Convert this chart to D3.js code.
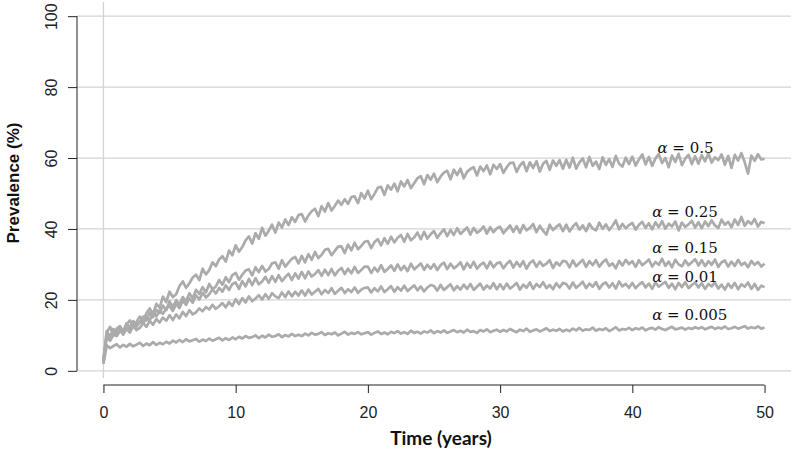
<!DOCTYPE html>
<html>
<head>
<meta charset="utf-8">
<script src="https://cdn.jsdelivr.net/npm/d3@7"></script>
<style>
  body { margin: 0; background: #fff; }
  svg { display: block; }
</style>
</head>
<body>
<script>
const WIDTH = 794;
const HEIGHT = 455;

// one value every quarter year, from 0 to 50
const STEP = 0.25;

const alpha05 = [
    2, 10.8, 12.4, 10.1, 11.9, 12.6, 10.9, 13.1, 14.2, 12.6, 13.8, 15.3, 14.1, 16.2, 17.6, 16.0, 18.9, 17.8, 20.9, 19.4,
    22.3, 20.8, 21.6, 23.9, 25.2, 23.4, 24.7, 26.3, 27.1, 25.6, 28.8, 27.2, 28.4, 30.6, 29.5, 31.4, 32.3, 30.8, 33.9, 32.6,
    35.4, 33.6, 34.9, 36.8, 37.9, 35.9, 38.8, 37.2, 40.3, 38.1, 39.5, 41.2, 39.0, 41.8, 40.4, 42.7, 41.1, 43.3, 42.0, 43.9,
    44.2, 42.1, 43.8, 45.0, 45.7, 43.6, 46.4, 44.9, 47.3, 45.2, 46.5, 48.0, 46.8, 48.4, 47.1, 49.0, 49.2, 47.3, 50.1, 48.6,
    50.8, 48.4, 49.9, 51.6, 51.9, 49.6, 52.3, 51.1, 52.8, 50.6, 53.4, 52.0, 53.8, 51.5, 52.9, 54.3, 54.9, 52.6, 55.2, 53.9,
    55.6, 53.2, 54.8, 55.9, 56.4, 54.0, 56.7, 55.2, 57.0, 54.3, 56.1, 56.9, 57.4, 55.1, 57.6, 56.3, 57.9, 55.4, 58.1, 56.9,
    58.3, 55.8, 57.4, 58.6, 58.7, 56.1, 57.9, 58.9, 56.3, 58.8, 57.2, 59.1, 56.2, 58.4, 59.2, 56.7, 59.3, 57.8, 59.4, 57.0,
    59.5, 57.3, 60.1, 57.0, 58.8, 59.9, 57.4, 60.3, 57.8, 59.0, 56.9, 60.2, 58.1, 59.7, 57.5, 60.6, 58.4, 57.6, 60.1, 58.3,
    60.4, 57.9, 59.6, 61.0, 58.2, 60.3, 57.8, 59.9, 61.1, 58.6, 60.0, 57.4, 60.7, 58.9, 61.2, 58.0, 59.8, 60.9, 58.3, 60.5,
    58.4, 60.8, 59.1, 61.3, 58.7, 60.2, 59.4, 61.0, 58.1, 60.6, 57.2, 60.9, 59.3, 61.4, 58.8, 55.6, 60.7, 59.2, 61.1, 59.6,
    59.8
];

const alpha025 = [
    3, 11.2, 9.6, 11.8, 10.4, 12.3, 11.1, 13.4, 12.2, 14.0, 12.9, 13.6, 15.3, 14.2, 16.4, 15.1, 17.2, 16.3, 18.4, 17.1,
    19.6, 18.0, 19.9, 18.7, 20.8, 19.6, 21.9, 20.4, 22.8, 21.7, 23.6, 22.1, 24.5, 23.0, 23.8, 25.6, 24.3, 26.4, 25.0, 27.0,
    27.6, 25.7, 27.1, 28.3, 28.6, 26.9, 29.2, 27.8, 29.6, 28.0, 28.7, 30.3, 30.6, 28.8, 31.2, 29.4, 30.5, 31.6, 32.1, 30.3,
    32.4, 30.6, 32.9, 31.3, 33.5, 31.8, 32.7, 34.1, 34.4, 32.6, 33.8, 35.0, 35.1, 33.2, 35.6, 34.0, 36.1, 34.3, 35.2, 36.4,
    36.6, 34.6, 36.3, 37.1, 35.4, 37.4, 35.8, 37.8, 36.2, 37.5, 38.3, 36.4, 38.6, 36.8, 37.6, 39.0, 37.1, 39.2, 37.3, 38.5,
    39.4, 37.5, 38.8, 39.9, 38.0, 39.7, 38.3, 40.2, 38.6, 39.5, 40.4, 38.4, 40.3, 38.9, 39.6, 40.7, 38.7, 40.5, 39.1, 40.2,
    40.6, 38.8, 39.9, 41.0, 39.2, 40.8, 38.9, 41.1, 39.6, 40.3, 41.4, 39.1, 40.9, 39.5, 38.4, 41.2, 39.7, 40.6, 41.3, 39.4,
    41.2, 39.3, 40.7, 41.6, 39.8, 41.0, 39.4, 41.5, 40.1, 39.6, 41.8, 40.0, 41.3, 39.7, 40.9, 42.4, 39.9, 41.4, 40.2, 41.1,
    41.7, 39.8, 41.2, 42.0, 40.3, 41.6, 39.9, 41.9, 40.5, 42.2, 40.1, 41.5, 40.7, 42.1, 39.6, 41.8, 40.6, 41.3, 42.3, 40.4,
    41.9, 40.2, 42.1, 40.8, 42.4, 41.0, 40.3, 42.6, 41.2, 42.0, 40.5, 42.7, 41.1, 43.4, 40.9, 42.2, 41.4, 42.8, 40.7, 42.0,
    41.6
];

const alpha015 = [
    2.5, 9.8, 8.6, 10.3, 9.9, 11.4, 10.5, 12.2, 11.3, 13.1, 12.4, 13.9, 13.2, 15.1, 14.3, 16.2, 15.4, 17.0, 16.1, 17.6,
    18.3, 16.9, 18.8, 17.7, 19.8, 18.6, 20.4, 19.2, 21.3, 20.1, 22.0, 20.7, 21.6, 23.0, 21.8, 23.4, 22.3, 24.1, 22.8, 24.5,
    24.9, 23.1, 25.3, 23.8, 25.9, 24.2, 26.1, 24.4, 25.2, 26.5, 24.8, 26.7, 25.1, 27.0, 25.3, 26.4, 27.4, 25.6, 27.5, 26.0,
    27.9, 26.1, 28.0, 26.6, 27.3, 28.4, 26.8, 28.5, 27.0, 28.7, 26.9, 28.2, 29.0, 27.3, 28.8, 27.5, 29.3, 27.6, 28.4, 29.4,
    29.4, 27.6, 29.1, 28.0, 29.8, 27.9, 28.7, 29.7, 28.2, 30.0, 28.4, 29.6, 28.1, 30.2, 28.6, 29.4, 30.3, 28.5, 29.9, 28.8,
    30.1, 28.4, 29.8, 30.5, 28.7, 30.2, 28.9, 29.6, 30.6, 28.6, 30.4, 29.1, 30.7, 28.8, 29.9, 30.5, 28.9, 30.8, 29.2, 30.3,
    30.6, 28.9, 30.2, 31.0, 29.1, 30.7, 29.4, 30.9, 28.8, 30.4, 31.1, 29.3, 30.8, 29.6, 30.2, 31.2, 29.0, 30.6, 29.7, 31.0,
    30.8, 29.2, 31.1, 29.5, 30.4, 31.3, 29.3, 30.9, 29.8, 31.2, 29.4, 30.6, 31.4, 29.6, 30.3, 28.9, 31.0, 29.7, 31.3, 30.1,
    30.9, 29.3, 31.2, 29.8, 30.5, 31.4, 29.4, 30.7, 29.9, 31.6, 29.6, 30.8, 29.2, 31.3, 30.0, 29.5, 31.1, 29.8, 30.6, 31.5,
    29.7, 31.2, 29.5, 30.9, 29.9, 31.4, 29.3, 30.6, 31.1, 29.4, 30.8, 29.6, 31.3, 29.8, 30.5, 29.2, 31.0, 29.9, 30.7, 29.4,
    30.2
];

const alpha001 = [
    3.5, 9.6, 8.5, 10.2, 9.8, 11.3, 10.2, 11.9, 10.8, 12.6, 11.5, 12.1, 13.5, 12.4, 14.1, 13.0, 14.6, 13.6, 15.0, 14.1,
    15.7, 14.3, 15.9, 14.8, 16.6, 15.4, 17.1, 15.9, 16.5, 17.6, 16.8, 18.0, 17.3, 18.6, 17.5, 18.2, 19.1, 17.9, 19.4, 18.3,
    20.2, 18.8, 20.5, 19.3, 21.0, 19.6, 20.4, 21.3, 20.1, 21.6, 20.3, 21.9, 21.0, 20.5, 22.1, 20.8, 22.4, 21.0, 22.3, 21.2,
    22.7, 21.2, 22.9, 21.5, 22.3, 23.1, 21.6, 22.8, 21.9, 23.3, 21.7, 22.6, 23.4, 21.9, 23.0, 22.2, 23.5, 22.0, 22.9, 23.4,
    23.5, 22.1, 23.3, 22.4, 23.8, 22.2, 23.0, 23.9, 22.3, 23.6, 22.6, 24.0, 22.5, 23.3, 24.1, 22.7, 23.8, 22.4, 23.5, 24.2,
    23.9, 22.6, 24.2, 22.8, 23.6, 24.4, 22.7, 23.9, 22.9, 24.3, 23.1, 24.5, 22.8, 23.7, 24.6, 22.9, 24.1, 23.2, 24.7, 23.0,
    24.4, 23.0, 24.6, 23.2, 23.9, 24.8, 22.9, 24.3, 23.4, 24.9, 23.1, 24.5, 23.6, 25.0, 23.3, 24.2, 23.0, 24.7, 23.5, 24.8,
    24.5, 23.2, 24.9, 23.4, 24.2, 25.1, 23.3, 24.6, 23.7, 25.0, 23.1, 24.4, 24.9, 23.5, 24.7, 23.2, 25.2, 23.8, 24.5, 23.4,
    24.8, 23.3, 24.3, 25.0, 23.5, 24.6, 23.1, 24.9, 23.7, 24.4, 25.1, 23.4, 24.6, 23.0, 24.8, 23.6, 25.0, 23.3, 24.2, 24.9,
    23.5, 24.7, 23.1, 24.5, 23.8, 24.9, 23.2, 24.3, 22.9, 24.6, 23.4, 24.8, 23.0, 24.4, 23.7, 24.9, 23.1, 24.5, 22.8, 24.0,
    23.6
];

const alpha0005 = [
    2, 7.2, 6.4, 7.0, 7.5, 6.6, 7.3, 6.8, 7.6, 6.9, 7.4, 7.9, 7.0, 7.7, 7.2, 8.1, 7.3, 7.9, 7.5, 8.2,
    7.7, 8.5, 8.0, 8.7, 8.1, 8.9, 8.3, 8.6, 9.0, 8.2, 8.8, 8.4, 9.1, 8.5, 8.9, 9.3, 8.6, 9.2, 8.7, 9.4,
    8.9, 9.6, 9.1, 9.8, 9.3, 9.5, 10.0, 9.2, 9.9, 9.4, 10.2, 9.6, 9.8, 10.3, 9.5, 10.1, 9.7, 10.4, 9.8, 10.2,
    9.8, 10.5, 10.0, 10.7, 10.2, 10.4, 10.9, 10.1, 10.6, 10.3, 10.8, 10.0, 10.5, 11.0, 10.2, 10.7, 10.4, 10.9, 10.3, 10.6,
    10.9, 10.2, 10.7, 11.1, 10.4, 10.8, 10.3, 11.0, 10.6, 11.2, 10.5, 10.9, 10.4, 11.3, 10.7, 11.0, 10.5, 11.1, 10.8, 11.4,
    10.6, 11.2, 10.8, 11.4, 10.7, 11.1, 11.5, 10.9, 11.3, 10.8, 11.6, 11.0, 11.2, 10.7, 11.5, 11.1, 11.7, 10.9, 11.3, 11.6,
    11.0, 11.5, 11.1, 11.8, 11.3, 10.9, 11.6, 11.2, 11.9, 11.0, 11.4, 11.7, 11.1, 11.5, 12.0, 11.2, 11.6, 11.3, 11.8, 11.1,
    11.6, 11.2, 11.9, 11.4, 12.1, 11.3, 11.7, 11.5, 12.2, 11.3, 11.8, 11.5, 12.0, 11.2, 11.7, 12.3, 11.4, 11.8, 11.6, 12.1,
    11.5, 12.0, 11.7, 12.2, 11.4, 11.9, 12.1, 11.6, 12.3, 11.8, 11.5, 12.0, 12.4, 11.7, 11.9, 12.2, 11.6, 12.1, 11.8, 12.3,
    11.9, 12.3, 11.7, 12.1, 12.4, 11.8, 12.2, 11.9, 12.5, 11.8, 12.0, 12.4, 11.9, 12.2, 12.6, 11.9, 12.3, 12.0, 12.5, 11.9,
    12.2
];

const seriesList = [alpha05, alpha025, alpha015, alpha001, alpha0005];

// text labels beside the curves
const labelValues = ["0.5", "0.25", "0.15", "0.01", "0.005"];
const labelTime = [41.9, 41.5, 41.5, 41.5, 41.5];
const labelPrev = [61.4, 43.4, 33.2, 25.1, 14.4];

const xTicks = [0, 10, 20, 30, 40, 50];
const yTicks = [0, 20, 40, 60, 80, 100];

const xScale = d3.scaleLinear().domain([-2, 52]).range([77, 791]);
const yScale = d3.scaleLinear().domain([-4, 104]).range([385, 2]);

const svg = d3.select("body").append("svg")
    .attr("width", WIDTH)
    .attr("height", HEIGHT);

// grid
svg.append("g").selectAll("line")
    .data(yTicks)
    .join("line")
    .attr("x1", xScale(-2))
    .attr("x2", xScale(52))
    .attr("y1", d => yScale(d))
    .attr("y2", d => yScale(d))
    .attr("stroke", "#d4d4d4")
    .attr("stroke-width", 1.3);

svg.append("line")
    .attr("x1", xScale(0)).attr("x2", xScale(0))
    .attr("y1", yScale(104)).attr("y2", yScale(-2))
    .attr("stroke", "#d4d4d4")
    .attr("stroke-width", 1.3);

// curves
const line = d3.line()
    .x((d, i) => xScale(i * STEP))
    .y(d => yScale(d));

svg.append("g").selectAll("path")
    .data(seriesList)
    .join("path")
    .attr("d", line)
    .attr("fill", "none")
    .attr("stroke", "#ababab")
    .attr("stroke-width", 2.7)
    .attr("stroke-linejoin", "round");

// axes
const yAxis = d3.axisLeft(yScale).tickValues(yTicks).tickSize(9).tickSizeOuter(0);
const gy = svg.append("g")
    .attr("transform", "translate(" + xScale(-2) + ",0)")
    .call(yAxis);
gy.select(".domain").attr("d", "M0," + yScale(0) + "V" + yScale(100));
gy.selectAll("text")
    .attr("transform", "rotate(-90)")
    .attr("x", 0)
    .attr("y", -20)
    .attr("dy", 0)
    .attr("text-anchor", "middle");

const xAxis = d3.axisBottom(xScale).tickValues(xTicks).tickSize(8).tickSizeOuter(0);
const gx = svg.append("g")
    .attr("transform", "translate(0," + yScale(-4) + ")")
    .call(xAxis);
gx.select(".domain").attr("d", "M" + xScale(0) + ",0H" + xScale(50));
gx.selectAll("text")
    .attr("y", 33)
    .attr("dy", 0);

svg.selectAll(".tick text")
    .attr("font-family", "'Liberation Sans', Arial, sans-serif")
    .attr("font-size", 16)
    .attr("fill", "#222");
svg.selectAll(".domain, .tick line").attr("stroke", "#222");

// axis titles
svg.append("text")
    .attr("x", 441)
    .attr("y", 445)
    .attr("text-anchor", "middle")
    .attr("font-family", "Lato, 'Liberation Sans', sans-serif")
    .attr("font-weight", "bold")
    .attr("font-size", 19)
    .attr("fill", "#111")
    .text("Time (years)");

svg.append("text")
    .attr("transform", "translate(19,183) rotate(-90)")
    .attr("text-anchor", "middle")
    .attr("font-family", "'Liberation Sans', Arial, sans-serif")
    .attr("font-weight", "bold")
    .attr("font-size", 17)
    .attr("fill", "#111")
    .text("Prevalence (%)");

// alpha labels
const labels = svg.append("g").selectAll("text")
    .data(labelValues)
    .join("text")
    .attr("x", (d, i) => xScale(labelTime[i]))
    .attr("y", (d, i) => yScale(labelPrev[i]))
    .attr("font-family", "'DejaVu Serif', serif")
    .attr("font-size", 15)
    .attr("fill", "#111");
labels.append("tspan").attr("font-style", "italic").text("α");
labels.append("tspan").text(d => " = " + d);
</script>
</body>
</html>
